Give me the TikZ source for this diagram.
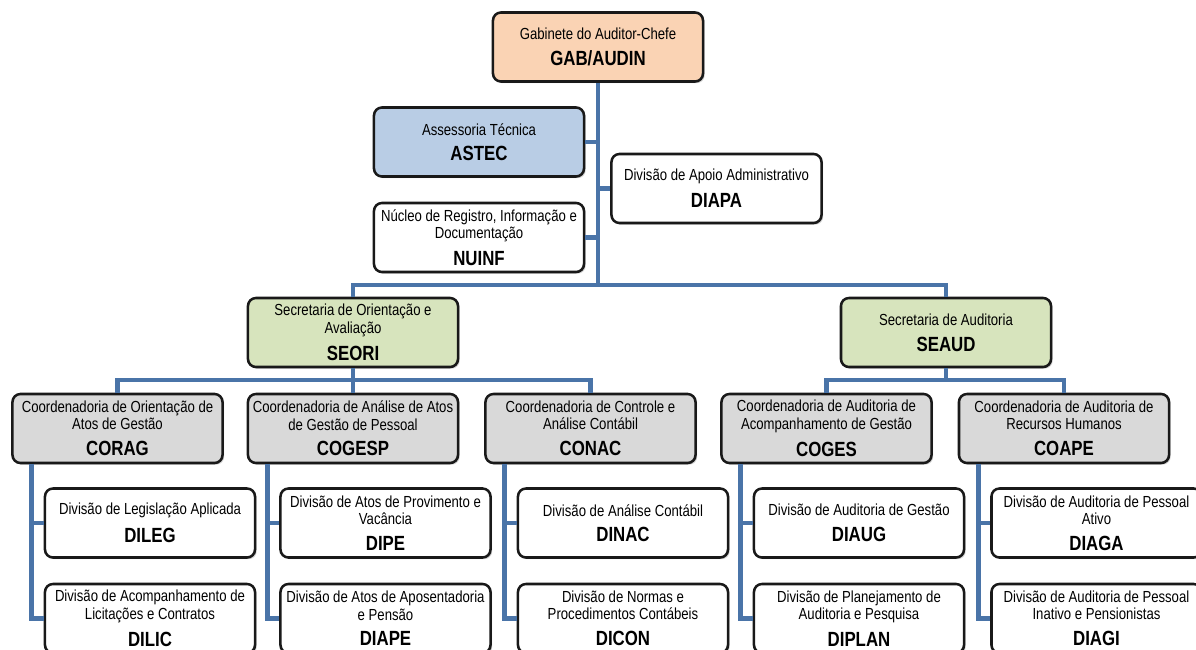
\documentclass[tikz,border=0pt]{standalone}
\usepackage{fontspec}
\setmainfont{Liberation Sans}[FakeStretch=0.82]
\usetikzlibrary{shadows}
\definecolor{gabfill}{HTML}{FAD3B4}
\definecolor{astecfill}{HTML}{B9CDE5}
\definecolor{secfill}{HTML}{D7E4BD}
\definecolor{coordfill}{HTML}{D9D9D9}
\definecolor{linkblue}{HTML}{4A74A8}
\newcommand*\codefont{\fontsize{14.6}{12.2}\selectfont\bfseries}

\begin{document}
\begin{tikzpicture}[x=0.025cm,y=-0.025cm]
\tikzset{
  unitbox/.style={draw=black!90,line width=1.8pt,rounded corners=0.2cm,fill=white,
    minimum width=5.25cm,minimum height=1.725cm,inner sep=1pt,align=center,
    font=\fontsize{11.4}{12.2}\selectfont,
    drop shadow={shadow xshift=1.2pt,shadow yshift=-1.2pt,opacity=0.35}},
  link/.style={draw=linkblue,line width=3.4pt}
}
\useasboundingbox (0,0) rectangle (1196,650);
\clip (0,0) rectangle (1196,650);
% top level
\node[unitbox,fill=gabfill] (n_GAB) at (598,47) {Gabinete do Auditor-Chefe\\[6pt]{\codefont GAB/AUDIN}};
\node[unitbox,fill=astecfill] (n_ASTEC) at (479,142) {Assessoria Técnica\\[6pt]{\codefont ASTEC}};
\node[unitbox] (n_DIAPA) at (716.5,188.5) {Divisão de Apoio Administrativo\\[6pt]{\codefont DIAPA}};
\node[unitbox] (n_NUINF) at (479,237.5) {Núcleo de Registro, Informação e\\Documentação\\[6pt]{\codefont NUINF}};
% secretarias
\node[unitbox,fill=secfill] (n_SEORI) at (353,332.5) {Secretaria de Orientação e\\Avaliação\\[6pt]{\codefont SEORI}};
\node[unitbox,fill=secfill] (n_SEAUD) at (946,332.5) {Secretaria de Auditoria\\[6pt]{\codefont SEAUD}};
% coordenadorias
\node[unitbox,fill=coordfill] (n_CORAG) at (117.5,428.5) {Coordenadoria de Orientação de\\Atos de Gestão\\[6pt]{\codefont CORAG}};
\node[unitbox,fill=coordfill] (n_COGESP) at (353,428.5) {Coordenadoria de Análise de Atos\\de Gestão de Pessoal\\[6pt]{\codefont COGESP}};
\node[unitbox,fill=coordfill] (n_CONAC) at (590.5,428.5) {Coordenadoria de Controle e\\Análise Contábil\\[6pt]{\codefont CONAC}};
\node[unitbox,fill=coordfill] (n_COGES) at (826.5,428.5) {Coordenadoria de Auditoria de\\Acompanhamento de Gestão\\[6pt]{\codefont COGES}};
\node[unitbox,fill=coordfill] (n_COAPE) at (1064,428.5) {Coordenadoria de Auditoria de\\Recursos Humanos\\[6pt]{\codefont COAPE}};
% divisoes
\node[unitbox] (n_DILEG) at (150,523) {Divisão de Legislação Aplicada\\[6pt]{\codefont DILEG}};
\node[unitbox] (n_DILIC) at (150,618.5) {Divisão de Acompanhamento de\\Licitações e Contratos\\[6pt]{\codefont DILIC}};
\node[unitbox] (n_DIPE) at (385.5,523) {Divisão de Atos de Provimento e\\Vacância\\[6pt]{\codefont DIPE}};
\node[unitbox] (n_DIAPE) at (385.5,618.5) {Divisão de Atos de Aposentadoria\\e Pensão\\[6pt]{\codefont DIAPE}};
\node[unitbox] (n_DINAC) at (623,523) {Divisão de Análise Contábil\\[6pt]{\codefont DINAC}};
\node[unitbox] (n_DICON) at (623,618.5) {Divisão de Normas e\\Procedimentos Contábeis\\[6pt]{\codefont DICON}};
\node[unitbox] (n_DIAUG) at (859,523) {Divisão de Auditoria de Gestão\\[6pt]{\codefont DIAUG}};
\node[unitbox] (n_DIPLAN) at (859,618.5) {Divisão de Planejamento de\\Auditoria e Pesquisa\\[6pt]{\codefont DIPLAN}};
\node[unitbox] (n_DIAGA) at (1096.5,523) {Divisão de Auditoria de Pessoal\\Ativo\\[6pt]{\codefont DIAGA}};
\node[unitbox] (n_DIAGI) at (1096.5,618.5) {Divisão de Auditoria de Pessoal\\Inativo e Pensionistas\\[6pt]{\codefont DIAGI}};
% connectors
\coordinate (b_top) at (598,285);
\coordinate (b_SEORI) at (353,380);
\coordinate (b_SEAUD) at (946,380);
\draw[link] (n_GAB.south) -- (b_top);
\draw[link] (n_ASTEC.east) -- (n_ASTEC.east -| b_top);
\draw[link] (n_DIAPA.west) -- (n_DIAPA.west -| b_top);
\draw[link] (n_NUINF.east) -- (n_NUINF.east -| b_top);
\draw[link] (n_SEORI.north) |- (b_top) -| (n_SEAUD.north);
\draw[link] (n_SEORI.south) -- (b_SEORI);
\draw[link] (n_CORAG.north) |- (b_SEORI) -| (n_CONAC.north);
\draw[link] (n_COGESP.north) -- (b_SEORI);
\draw[link] (n_SEAUD.south) -- (b_SEAUD);
\draw[link] (n_COGES.north) |- (b_SEAUD) -| (n_COAPE.north);
\foreach \co/\da/\db in {CORAG/DILEG/DILIC,COGESP/DIPE/DIAPE,CONAC/DINAC/DICON,COGES/DIAUG/DIPLAN,COAPE/DIAGA/DIAGI}{
  \coordinate (t_\co) at ([xshift=-0.3cm]n_\da.west);
  \draw[link] (t_\co |- n_\co.south) |- (n_\db.west);
  \draw[link] (t_\co) -- (n_\da.west);
}
\end{tikzpicture}
\end{document}
